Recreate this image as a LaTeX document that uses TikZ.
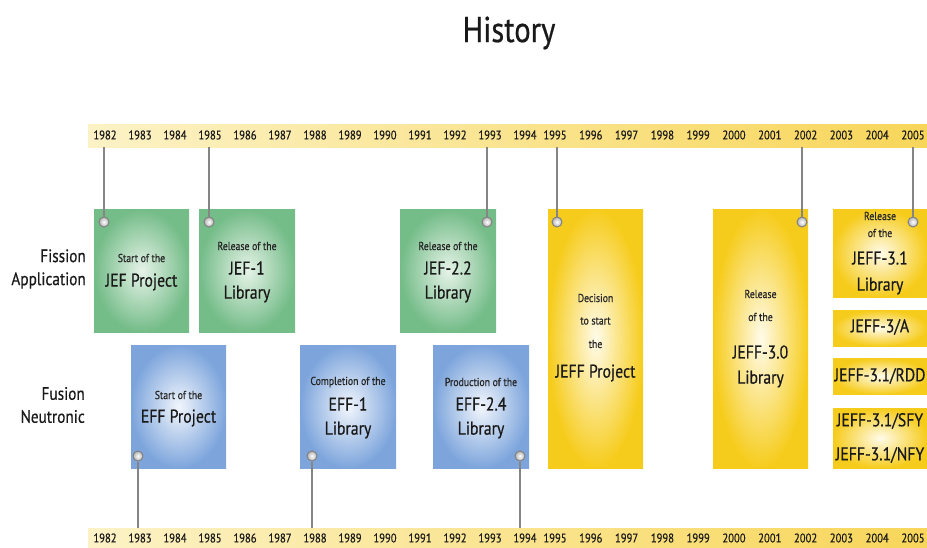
\documentclass[tikz,border=0pt]{standalone}
\usepackage{fontspec}
\setmainfont[FakeStretch=0.85,FakeBold=0.5]{PT Sans}
\begin{document}
\begin{tikzpicture}[x=1pt,y=-1pt,
  yr/.style={font=\fontsize{12.5}{13}\selectfont, text=black!90, inner sep=0pt},
  side/.style={font=\fontsize{18}{23}\selectfont, text=black!90, align=right, anchor=east, inner sep=0pt},
  sm/.style={font=\fontsize{11.5}{12}\selectfont, text=black!85, inner sep=0pt},
  bg/.style={font=\fontsize{18.5}{19}\selectfont, text=black!90, inner sep=0pt},
  evbox/.style={rectangle, draw=none, inner sep=0pt, anchor=north west},
  gbox/.style={evbox, inner color=gcen, outer color=gedge},
  bbox/.style={evbox, inner color=bcen, outer color=bedge},
  ybox/.style={evbox, inner color=ycen, outer color=yedge},
  band/.style={rectangle, draw=none, inner sep=0pt, anchor=north west, left color=bandl, right color=bandr},
  peg/.style={circle, minimum size=10pt, inner sep=0pt, draw=black!50, line width=1pt, inner color=white, outer color=black!30},
  stem/.style={draw=black!48, line width=2pt}
]
\definecolor{gcen}{HTML}{E6F3E8}
\definecolor{gedge}{HTML}{74BC88}
\definecolor{bcen}{HTML}{F2F6FC}
\definecolor{bedge}{HTML}{7DA5DC}
\definecolor{ycen}{HTML}{FFFBEA}
\definecolor{yedge}{HTML}{F6CC1C}
\definecolor{bandl}{HTML}{FCF2C6}
\definecolor{bandr}{HTML}{F8D65A}
\useasboundingbox (0,0) rectangle (927,547);

% title
\node[font=\fontsize{36}{38}\selectfont, text=black!90, inner sep=0pt] (title) at (509,33) {History};

% bands
\node[band, minimum width=839pt, minimum height=23pt] (topband) at (88,124) {};
\node[band, minimum width=839pt, minimum height=19pt] (botband) at (88,528) {};

% years
\foreach \y [count=\i from 0] in {1982,...,1994} {
  \node[yr] (t\y) at (105+35*\i,135) {\y};
  \node[yr] (b\y) at (105+35*\i,538) {\y};
}
\foreach \y [count=\i from 0] in {1995,...,2005} {
  \node[yr] (t\y) at (555+35.8*\i,135) {\y};
  \node[yr] (b\y) at (555+35.8*\i,538) {\y};
}

% side labels
\node[side] (fis) at (86,269) {Fission\\Application};
\node[side] (fus) at (85,405) {Fusion\\Neutronic};

% green boxes
\node[gbox, minimum width=95pt, minimum height=123pt] (g1) at (94,209) {};
\node[gbox, minimum width=96pt, minimum height=123pt] (g2) at (199,209) {};
\node[gbox, minimum width=96pt, minimum height=123pt] (g3) at (400,209) {};
% blue boxes
\node[bbox, minimum width=95pt, minimum height=123pt] (u1) at (131,345) {};
\node[bbox, minimum width=96pt, minimum height=123pt] (u2) at (300,345) {};
\node[bbox, minimum width=96pt, minimum height=123pt] (u3) at (433,345) {};
% yellow boxes
\node[ybox, minimum width=95pt, minimum height=259pt] (y1) at (548,209) {};
\node[ybox, minimum width=95pt, minimum height=259pt] (y2) at (713,209) {};
\node[ybox, minimum width=94pt, minimum height=88pt] (y3) at (833,209) {};
\node[ybox, minimum width=94pt, minimum height=36pt] (y4) at (833,310) {};
\node[ybox, minimum width=94pt, minimum height=36pt] (y5) at (833,358) {};
\node[ybox, minimum width=94pt, minimum height=60pt] (y6) at (833,408) {};

% texts
\node[sm] (g1a) at (141.5,258) {Start of the};
\node[bg] (g1b) at (141.5,282) {JEF Project};
\node[sm] (g2a) at (247,246) {Release of the};
\node[bg] (g2b) at (247,268) {JEF-1};
\node[bg] (g2c) at (247,294) {Library};
\node[sm] (g3a) at (448,246) {Release of the};
\node[bg] (g3b) at (448,268) {JEF-2.2};
\node[bg] (g3c) at (448,294) {Library};

\node[sm] (u1a) at (178.5,395) {Start of the};
\node[bg] (u1b) at (178.5,418) {EFF Project};
\node[sm] (u2a) at (348,382) {Completion of the};
\node[bg] (u2b) at (348,404) {EFF-1};
\node[bg] (u2c) at (348,430) {Library};
\node[sm] (u3a) at (481,382) {Production of the};
\node[bg] (u3b) at (481,404) {EFF-2.4};
\node[bg] (u3c) at (481,430) {Library};

\node[sm] (y1a) at (595.5,298) {Decision};
\node[sm] (y1b) at (595.5,321) {to start};
\node[sm] (y1c) at (595.5,344) {the};
\node[bg] (y1d) at (595.5,373) {JEFF Project};
\node[sm] (y2a) at (760.5,294) {Release};
\node[sm] (y2b) at (760.5,317) {of the};
\node[bg] (y2c) at (760.5,352) {JEFF-3.0};
\node[bg] (y2d) at (760.5,379) {Library};
\node[sm] (y3a) at (880,216) {Release};
\node[sm] (y3b) at (880,233) {of the};
\node[bg] (y3c) at (880,258) {JEFF-3.1};
\node[bg] (y3d) at (880,286) {Library};
\node[bg] (y4a) at (880,327) {JEFF-3/A};
\node[bg] (y5a) at (880,376) {JEFF-3.1/RDD};
\node[bg] (y6a) at (880,421) {JEFF-3.1/SFY};
\node[bg] (y6b) at (880,455) {JEFF-3.1/NFY};

% pegs
\node[peg] (p1) at (104,222) {};
\node[peg] (p2) at (209,222) {};
\node[peg] (p3) at (487,222) {};
\node[peg] (p4) at (557,222) {};
\node[peg] (p5) at (802,222) {};
\node[peg] (p6) at (913,222) {};
\node[peg] (q1) at (138,456) {};
\node[peg] (q2) at (312,456) {};
\node[peg] (q3) at (520,456) {};

% stems
\foreach \p in {p1,p2,p3,p4,p5,p6}
  \draw[stem] (\p.north) -- (\p |- topband.south);
\foreach \q in {q1,q2,q3}
  \draw[stem] (\q.south) -- (\q |- botband.north);
\end{tikzpicture}
\end{document}
